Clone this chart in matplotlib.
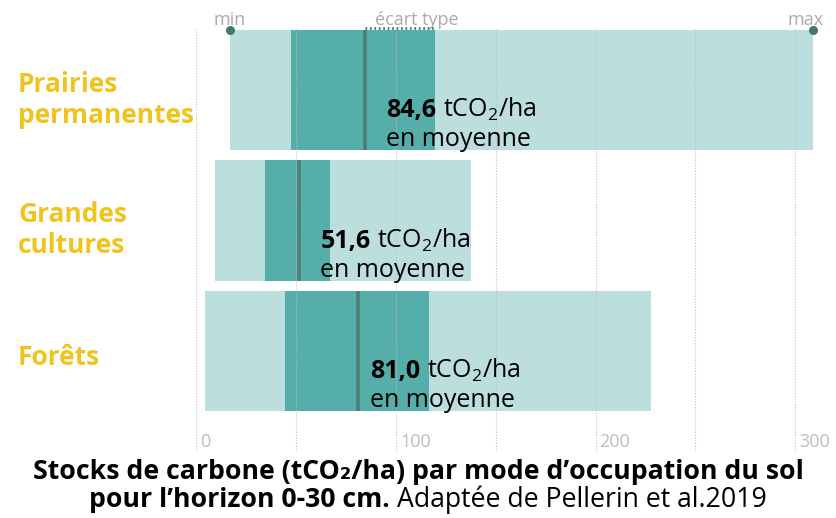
import matplotlib
matplotlib.use('Agg')
import matplotlib.pyplot as plt
from matplotlib.transforms import IdentityTransform

plt.rcParams['font.family'] = ['Open Sans', 'DejaVu Sans']
plt.rcParams['mathtext.fontset'] = 'custom'
plt.rcParams['mathtext.rm'] = 'Open Sans'
plt.rcParams['mathtext.it'] = 'Open Sans'
plt.rcParams['mathtext.bf'] = 'Open Sans:bold'

# Données (tCO2/ha, horizon 0-30 cm)
categories = ['Prairies\npermanentes', 'Grandes\ncultures', 'Forêts']
val_min = [16.8, 9.3, 4.3]
val_max = [309.0, 137.6, 227.8]
sd_low = [47.4, 34.3, 44.4]
sd_high = [119.5, 66.9, 116.5]
means = [84.6, 51.6, 81.0]
tick_vals = [0, 100, 200, 300]
grid_vals = [0, 50, 100, 150, 200, 250, 300]

# couleurs
c_light = '#bcdfdd'
c_dark = '#55aea9'
c_mean = '#4b7f73'
c_dot = '#3f7b6c'
c_yellow = '#f1c41d'
c_grey = '#bdbdbd'

W, H = 837, 518
fig = plt.figure(figsize=(W / 100, H / 100), dpi=100)
ax = fig.add_axes([196.5 / W, 1 - 452 / H, 618.5 / W, 424 / H])
ax.set_xlim(0, 310)
ax.set_ylim(2.774, -0.475)
ax.axis('off')

ys = list(range(len(categories)))
bh = 0.92

ax.barh(ys, [b - a for a, b in zip(val_min, val_max)], left=val_min,
        height=bh, color=c_light, zorder=1)
ax.barh(ys, [b - a for a, b in zip(sd_low, sd_high)], left=sd_low,
        height=bh, color=c_dark, zorder=2)
for y, m in zip(ys, means):
    ax.vlines(m, y - bh / 2, y + bh / 2, color=c_mean, lw=2.6, zorder=3)

for g in grid_vals:
    ax.axvline(g, color=c_grey, lw=0.8, linestyle=(0, (1, 1.5)), zorder=4, alpha=0.9)

# légende min / max / écart type sur la première barre
top0 = ys[0] - bh / 2
ax.plot([val_min[0], val_max[0]], [top0, top0], 'o', ms=5.5, color=c_dot,
        clip_on=False, zorder=6, lw=0)
ax.plot([means[0], sd_high[0]], [top0 - 0.012] * 2, color=c_dot, lw=2,
        linestyle=(0, (0.6, 1.0)), zorder=6, clip_on=False)
ax.text(val_min[0], top0 - 0.04, 'min', ha='center', va='baseline',
        fontsize=13, color='#ababab')
ax.text(val_max[0] - 3.5, top0 - 0.04, 'max', ha='center', va='baseline',
        fontsize=13, color='#ababab')
ax.text((means[0] + sd_high[0]) / 2 + 8.5, top0 - 0.04, 'écart type',
        ha='center', va='baseline', fontsize=13, color='#ababab')

# graduations
for t in tick_vals:
    ax.text(t + 2, 0.012, str(t), transform=ax.get_xaxis_transform(),
            ha='left', va='baseline', fontsize=13, color=c_grey)

# catégories (va='baseline' -> ligne de base de la dernière ligne)
for y, cat in zip(ys, categories):
    yd = ax.transData.transform((0, y))[1]
    fig.text(18, yd - 33 if '\n' in cat else yd - 14, cat,
             transform=IdentityTransform(), ha='left', va='baseline',
             fontsize=19, fontweight='bold', color=c_yellow)

renderer = fig.canvas.get_renderer()


def draw_pieces(x, y, pieces, size, ha='left', color='black'):
    # pieces: (texte, graisse); x, y en pixels (y = ligne de base)
    gap = size * 100 / 72 * 0.26
    texts, widths = [], []
    for s, w in pieces:
        t = fig.text(0, 0, s, fontsize=size, fontweight=w, color=color,
                     transform=IdentityTransform(), ha='left', va='baseline')
        widths.append(t.get_window_extent(renderer).width)
        texts.append(t)
    total = sum(widths) + gap * (len(pieces) - 1)
    start = x - total / 2 if ha == 'center' else x
    for t, wd in zip(texts, widths):
        t.set_position((start, y))
        start += wd + gap


# annotations des moyennes
label_dx = [10.5, 10.5, 6.0]
for y, m, dx in zip(ys, means, label_dx):
    x_disp, y_bot = ax.transData.transform((m + dx, y + bh / 2))
    lab = f'{m:.1f}'.replace('.', ',')
    draw_pieces(x_disp, y_bot + 33, [(lab, 'bold'), (r'tCO$_\mathrm{2}$/ha', 'normal')], 18)
    draw_pieces(x_disp, y_bot + 4, [('en moyenne', 'normal')], 18)

# titre
draw_pieces(418.5, H - 479,
            [('Stocks de carbone (tCO₂/ha) par mode d’occupation du sol', 'bold')],
            19.2, ha='center')
draw_pieces(428, H - 507,
            [('pour l’horizon 0-30 cm.', 'bold'),
             ('Adaptée de Pellerin et al.2019', 'normal')],
            19.2, ha='center')

fig.savefig('out.png', dpi=100)
